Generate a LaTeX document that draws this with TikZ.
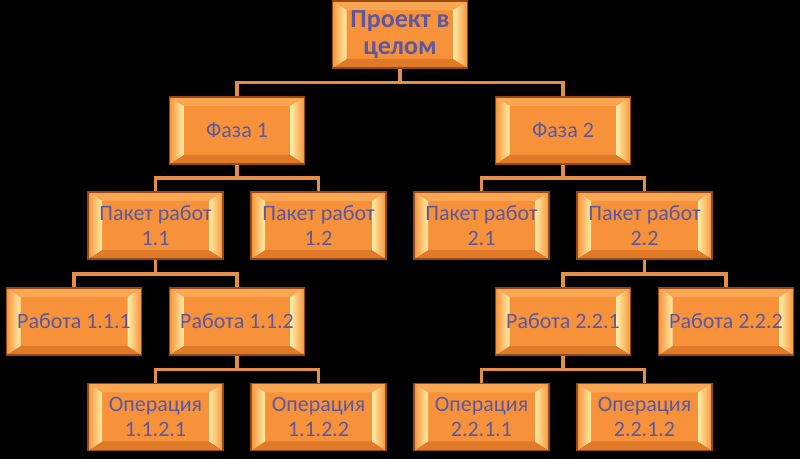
\documentclass[tikz,border=0pt]{standalone}
\usepackage{fontspec}
\setmainfont{Carlito}
\usepackage{xcolor}
\usepackage{tikz}

\definecolor{boxfill}{RGB}{247,146,58}
\definecolor{boxline}{RGB}{150,72,22}
\definecolor{bevlight}{RGB}{255,238,165}
\definecolor{bevtop}{RGB}{250,166,82}
\definecolor{bevbot}{RGB}{224,122,40}
\definecolor{linkcol}{RGB}{228,142,72}
\definecolor{textcol}{RGB}{92,88,160}

\tikzset{
	wbs/.style={rectangle, draw=boxline, line width=0.8pt, fill=boxfill,
		minimum width=101.25pt, minimum height=50.25pt, inner sep=0pt,
		text=textcol, align=center, font=\fontsize{16.5}{19}\selectfont,
		path picture={
			\coordinate (nw) at (path picture bounding box.north west);
			\coordinate (ne) at (path picture bounding box.north east);
			\coordinate (sw) at (path picture bounding box.south west);
			\coordinate (se) at (path picture bounding box.south east);
			\fill[bevtop] (nw) -- (ne) -- ([shift={(-10.5pt,-6.75pt)}]ne) -- ([shift={(10.5pt,-6.75pt)}]nw) -- cycle;
			\fill[bevbot] (sw) -- (se) -- ([shift={(-10.5pt,6.75pt)}]se) -- ([shift={(10.5pt,6.75pt)}]sw) -- cycle;
			\shade[left color=boxfill, right color=bevlight] (nw) -- ([shift={(10.5pt,-6.75pt)}]nw) -- ([shift={(10.5pt,6.75pt)}]sw) -- (sw) -- cycle;
			\shade[left color=bevlight, right color=boxfill] (ne) -- ([shift={(-10.5pt,-6.75pt)}]ne) -- ([shift={(-10.5pt,6.75pt)}]se) -- (se) -- cycle;
		}},
	top/.style={wbs, font=\fontsize{19.5}{20}\selectfont\bfseries},
	link/.style={draw=linkcol, line width=2.6pt},
}

\begin{document}
\begin{tikzpicture}[x=0.75pt, y=-0.75pt]
		% Background
		\fill[black] (0, 0) rectangle (800, 459);
		\useasboundingbox (0, 0) rectangle (800, 459);
		% Picture nodes
		%% Top
		\node[top] (P) at (400, 34.5) {Проект в\\целом};
		\coordinate (Pi) at (400, 82.5);
		%% Phases
		\node[wbs] (F1) at (237, 130.5) {Фаза 1};
		\node[wbs] (F2) at (563, 130.5) {Фаза 2};
		\coordinate (F1i) at (237, 178);
		\coordinate (F2i) at (563, 178);
		%% Work packages
		\node[wbs] (P11) at (155.5, 225.5) {Пакет работ\\1.1};
		\node[wbs] (P12) at (318.5, 225.5) {Пакет работ\\1.2};
		\node[wbs] (P21) at (481.5, 225.5) {Пакет работ\\2.1};
		\node[wbs] (P22) at (644.5, 225.5) {Пакет работ\\2.2};
		\coordinate (P11i) at (155.5, 274);
		\coordinate (P22i) at (644.5, 274);
		%% Works
		\node[wbs] (R111) at (74, 321.5) {Работа 1.1.1};
		\node[wbs] (R112) at (237, 321.5) {Работа 1.1.2};
		\node[wbs] (R221) at (563, 321.5) {Работа 2.2.1};
		\node[wbs] (R222) at (726, 321.5) {Работа 2.2.2};
		\coordinate (R112i) at (237, 369.5);
		\coordinate (R221i) at (563, 369.5);
		%% Operations
		\node[wbs] (O1121) at (155.5, 417) {Операция\\1.1.2.1};
		\node[wbs] (O1122) at (318.5, 417) {Операция\\1.1.2.2};
		\node[wbs] (O2211) at (481.5, 417) {Операция\\2.2.1.1};
		\node[wbs] (O2212) at (644.5, 417) {Операция\\2.2.1.2};
		% Picture arcs
		%% Top to phases
		\draw[link] (P) to (Pi);
		\draw[link] (Pi) -| (F1);
		\draw[link] (Pi) -| (F2);
		%% Phases to packages
		\draw[link] (F1) to (F1i);
		\draw[link] (F1i) -| (P11);
		\draw[link] (F1i) -| (P12);
		\draw[link] (F2) to (F2i);
		\draw[link] (F2i) -| (P21);
		\draw[link] (F2i) -| (P22);
		%% Packages to works
		\draw[link] (P11) to (P11i);
		\draw[link] (P11i) -| (R111);
		\draw[link] (P11i) -| (R112);
		\draw[link] (P22) to (P22i);
		\draw[link] (P22i) -| (R221);
		\draw[link] (P22i) -| (R222);
		%% Works to operations
		\draw[link] (R112) to (R112i);
		\draw[link] (R112i) -| (O1121);
		\draw[link] (R112i) -| (O1122);
		\draw[link] (R221) to (R221i);
		\draw[link] (R221i) -| (O2211);
		\draw[link] (R221i) -| (O2212);
	\end{tikzpicture}
\end{document}
